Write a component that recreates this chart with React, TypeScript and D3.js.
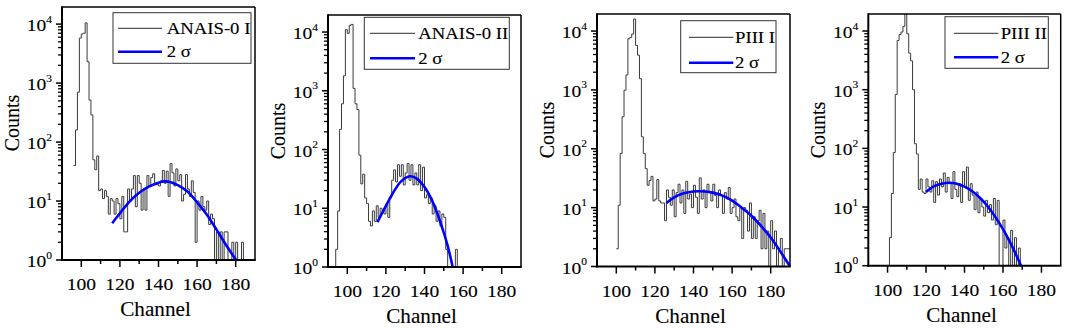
import React from 'react';
import * as d3 from 'd3';

// ---------------- data ----------------
const X_DOMAIN: [number, number] = [90, 190];
const X_MAJOR = [100, 120, 140, 160, 180];
const X_MINOR = [110, 130, 150, 170];
const Y_DOMAIN: [number, number] = [1, 19500];
const Y_DECADES = [0, 1, 2, 3, 4];

const SERIES_LABELS = ['ANAIS-0 I', 'ANAIS-0 II', 'PIII I', 'PIII II'];
const FIT_LABEL = '2 σ';
const X_TITLE = 'Channel';
const Y_TITLE = 'Counts';

// Panel 1 : ANAIS-0 I (one value per channel, first channel = START_1)
const START_1 = 96;
const COUNTS_1 = [
  40, 160, 700, 5800, 6800, 7000, 10500, 2300, 515, 288, 50, 34, 58,
  15, 16, 11, 15, 12, 6, 11, 10, 6, 11,
  9, 5, 12, 3, 3, 16, 10, 16, 27, 8,
  27, 20, 7, 16, 7, 27, 18, 25, 29, 20,
  19, 18, 22, 33, 20, 32, 12, 43, 30, 18,
  35, 22, 28, 10, 13, 28, 16, 12, 22, 14,
  2, 10, 7, 12, 8, 7, 10, 4, 6, 5,
  1, 3, 1, 3, 1, 3, 3, 1, 1, 2,
  1, 2, 1, 1, 2, 1,
];
const FIT_CH_1 = [116, 120, 125, 130, 135, 140, 143, 146, 150, 155, 160, 165, 170, 175, 180.2];
const FIT_VAL_1 = [4.2, 6.2, 9.8, 13.8, 17.5, 20.5, 21.5, 21, 18.6, 14.5, 9.5, 5.9, 3.3, 1.8, 1.0];

// Panel 2 : ANAIS-0 II
const START_2 = 93;
const COUNTS_2 = [
  0, 2, 9, 220, 600, 1800, 11000, 9500, 13000, 13500, 1100, 600, 480, 80, 26, 38,
  15, 12, 6, 5, 9, 6, 11, 7, 10, 9, 8, 12, 7, 15,
  30, 45, 28, 55, 35, 55, 25, 40, 58, 30, 55, 25, 40, 25, 55, 20, 50,
  15, 17, 12, 15, 8, 11, 6, 9, 5, 8, 7, 2, 1, 1, 1, 1, 2, 1,
];
const FIT_CH_2 = [115.6, 120, 124, 128, 132.5, 136, 140, 144, 148, 152, 154.6];
const FIT_VAL_2 = [5.8, 11, 19, 29, 35, 32, 23, 13.4, 6.1, 2.3, 1.0];

// Panel 3 : PIII I
const START_3 = 100;
const COUNTS_3 = [
  2, 11, 83, 350, 990, 1800, 7400, 7800, 8900, 16000, 5700, 3900, 1550, 160, 83, 46, 24, 29, 34, 13,
  14, 30, 13, 12, 12, 6, 20, 15, 11, 20, 7, 18, 25, 12, 20, 8, 28, 14, 17, 10,
  24, 15, 8, 32, 14, 20, 10, 25, 18, 13, 25, 16, 10, 20, 16, 8, 18, 14, 22, 8,
  10, 14, 7, 6, 10, 3, 10, 9, 4, 12, 3, 7, 3, 6, 9, 2, 8, 2, 4, 1,
  6, 2, 4, 1, 2, 3, 1, 2, 2, 2,
];
const FIT_CH_3 = [126, 130, 135, 140, 144, 150, 155, 160, 165, 170, 175, 180, 185, 190];
const FIT_VAL_3 = [12, 15, 17.5, 18.8, 19, 18, 16, 13.2, 10, 7.3, 4.9, 3.1, 1.8, 1.0];

// Panel 4 : PIII II
const START_4 = 100;
const COUNTS_4 = [
  0, 3, 17, 85, 830, 6900, 8700, 9600, 12000, 30000, 9000, 4200, 3100, 1000, 120, 80, 20, 30, 18, 17,
  30, 22, 18, 28, 12, 27, 16, 30, 22, 38, 18, 32, 25, 14, 40, 20, 15, 25, 12, 40,
  22, 48, 13, 25, 16, 9, 18, 8, 14, 10, 7, 13, 8, 11, 6, 14, 5, 13, 1, 0,
  6, 2, 3, 1, 4, 1, 3, 1, 2, 0,
];
const FIT_CH_4 = [120, 124, 128, 132.3, 136, 140, 144, 148, 152, 156, 160, 164, 169.4];
const FIT_VAL_4 = [18, 22.5, 25, 26, 25, 22.3, 18.6, 14.4, 10.3, 6.8, 4.2, 2.4, 1.0];

const DATA = [
  { start: START_1, counts: COUNTS_1, fitCh: FIT_CH_1, fitVal: FIT_VAL_1 },
  { start: START_2, counts: COUNTS_2, fitCh: FIT_CH_2, fitVal: FIT_VAL_2 },
  { start: START_3, counts: COUNTS_3, fitCh: FIT_CH_3, fitVal: FIT_VAL_3 },
  { start: START_4, counts: COUNTS_4, fitCh: FIT_CH_4, fitVal: FIT_VAL_4 },
];

// ---------------- layout ----------------
const LAYOUT = [
  { left: 62, top: 7, right: 255, bottom: 260, lg: { x: 51, y: 5.7, w: 138, h: 50.6, s0: 56, s1: 100, tx: 104.7, r1: 21.3, r2: 44.7 } },
  { left: 328, top: 15, right: 521, bottom: 267, lg: { x: 36.3, y: 2.3, w: 145, h: 52, s0: 42, s1: 87, tx: 90.3, r1: 18.3, r2: 43.3 } },
  { left: 597, top: 14, right: 790, bottom: 266.5, lg: { x: 83.7, y: 6.7, w: 95.3, h: 52, s0: 92, s1: 136.3, tx: 138, r1: 23.3, r2: 48.7 } },
  { left: 868.3, top: 14, right: 1060.7, bottom: 265.7, lg: { x: 76.7, y: 2.7, w: 103.3, h: 51.6, s0: 85.7, s1: 130, tx: 132.4, r1: 19.3, r2: 43.3 } },
];

const FONT = 'Liberation Serif, Tinos, Times New Roman, DejaVu Serif, Noto Serif, serif';
const HIST_COLOR = '#3a3a3a';
const FIT_COLOR = '#0000ff';
const TXT: React.CSSProperties = { fontFamily: FONT };
const TXT_STROKE = { stroke: '#000', strokeWidth: 0.12 };

function Panel({ idx }: { idx: number }) {
  const L = LAYOUT[idx];
  const D = DATA[idx];
  const x = d3.scaleLinear().domain(X_DOMAIN).range([L.left, L.right]);
  const y = d3.scaleLog().domain(Y_DOMAIN).range([L.bottom, L.top]);
  const yv = (v: number) => (v <= 1 ? L.bottom : y(v));

  const pts: [number, number][] = D.counts.map((v, i) => [D.start + i, v]);
  pts.push([D.start + D.counts.length, D.counts[D.counts.length - 1]]);
  const histPath = d3
    .line<[number, number]>()
    .x((d) => x(d[0]))
    .y((d) => yv(d[1]))
    .curve(d3.curveStepAfter)(pts) as string;

  const fitPts: [number, number][] = D.fitCh.map((c, i) => [c, D.fitVal[i]]);
  const fitPath = d3
    .line<[number, number]>()
    .x((d) => x(d[0]))
    .y((d) => y(d[1]))
    .curve(d3.curveCatmullRom.alpha(0.5))(fitPts) as string;

  const minorY: number[] = [];
  Y_DECADES.forEach((dec) => {
    for (let m = 2; m <= 9; m++) {
      const v = m * Math.pow(10, dec);
      if (v < Y_DOMAIN[1]) minorY.push(v);
    }
  });

  const clipId = `clip-${idx}`;
  const lg = L.lg;
  const cx = (L.left + L.right) / 2 - 3;

  return (
    <g>
      <defs>
        <clipPath id={clipId}>
          <rect x={L.left} y={L.top} width={L.right - L.left} height={L.bottom - L.top} />
        </clipPath>
      </defs>
      <g clipPath={`url(#${clipId})`}>
        <path d={histPath} fill="none" stroke={HIST_COLOR} strokeWidth={1} />
        <path d={fitPath} fill="none" stroke={FIT_COLOR} strokeWidth={2.6} />
      </g>

      {/* frame */}
      <line x1={L.left} x2={L.right} y1={L.top} y2={L.top} stroke="#000" strokeWidth={1.5} />
      <line x1={L.right} x2={L.right} y1={L.top} y2={L.bottom} stroke="#000" strokeWidth={1.5} />
      <line x1={L.left} x2={L.left} y1={L.top - 0.75} y2={L.bottom + 1} stroke="#000" strokeWidth={2} />
      <line x1={L.left - 1} x2={L.right + 0.75} y1={L.bottom} y2={L.bottom} stroke="#000" strokeWidth={2} />

      {/* x ticks */}
      {X_MAJOR.map((t) => (
        <g key={`xm${t}`}>
          <line x1={x(t)} x2={x(t)} y1={L.bottom} y2={L.bottom + 7} stroke="#000" strokeWidth={1.5} />
          <g transform={`translate(${x(t)},${L.bottom + 30}) scale(1.15,1)`}>
            <text textAnchor="middle" fontSize={17} style={TXT} fill="#000" {...TXT_STROKE}>{t}</text>
          </g>
        </g>
      ))}
      {X_MINOR.map((t) => (
        <line key={`xn${t}`} x1={x(t)} x2={x(t)} y1={L.bottom} y2={L.bottom + 4} stroke="#000" strokeWidth={1.5} />
      ))}

      {/* y ticks */}
      {Y_DECADES.map((dec) => {
        const v = Math.pow(10, dec);
        const yy = y(v);
        return (
          <g key={`ym${dec}`}>
            <line x1={L.left - 6} x2={L.left} y1={yy} y2={yy} stroke="#000" strokeWidth={1.5} />
            <g transform={`translate(${L.left - 10},${yy + 7}) scale(1.15,1)`}>
              <text textAnchor="end" fontSize={17} style={TXT} fill="#000" {...TXT_STROKE}>
                <tspan>10</tspan>
                <tspan fontSize={10} dy={-8.5}>{dec}</tspan>
              </text>
            </g>
          </g>
        );
      })}
      {minorY.map((v) => (
        <line key={`yn${v}`} x1={L.left - 4} x2={L.left} y1={y(v)} y2={y(v)} stroke="#000" strokeWidth={1.3} />
      ))}

      {/* axis titles */}
      <g transform={`translate(${cx},${L.bottom + 56}) scale(1.06,1)`}>
        <text textAnchor="middle" fontSize={20} style={TXT} fill="#000" {...TXT_STROKE}>{X_TITLE}</text>
      </g>
      <g transform={`translate(${L.left - 43},${L.top + 116}) rotate(-90)`}>
        <text textAnchor="middle" fontSize={20} style={TXT} fill="#000" {...TXT_STROKE}>{Y_TITLE}</text>
      </g>

      {/* legend */}
      <rect x={L.left + lg.x} y={L.top + lg.y} width={lg.w} height={lg.h} fill="#fff" stroke="#333" strokeWidth={1} />
      <line x1={L.left + lg.s0} x2={L.left + lg.s1} y1={L.top + lg.r1} y2={L.top + lg.r1} stroke="#555" strokeWidth={1.2} />
      <line x1={L.left + lg.s0} x2={L.left + lg.s1} y1={L.top + lg.r2} y2={L.top + lg.r2} stroke={FIT_COLOR} strokeWidth={2.6} />
      <g transform={`translate(${L.left + lg.tx},${L.top + lg.r1 + 5.5}) scale(1.17,1)`}>
        <text fontSize={16} style={TXT} fill="#000" {...TXT_STROKE}>{SERIES_LABELS[idx]}</text>
      </g>
      <g transform={`translate(${L.left + lg.tx},${L.top + lg.r2 + 5.5}) scale(1.17,1)`}>
        <text fontSize={16} style={TXT} fill="#000" {...TXT_STROKE}>{FIT_LABEL}</text>
      </g>
    </g>
  );
}

export default function App() {
  return (
    <svg
      width={1081}
      height={328}
      style={{ position: 'absolute', left: 0, top: 0, background: '#fff' }}
      xmlns="http://www.w3.org/2000/svg"
    >
      <rect x={0} y={0} width={1081} height={328} fill="#fff" />
      {[0, 1, 2, 3].map((i) => (
        <Panel key={i} idx={i} />
      ))}
    </svg>
  );
}
